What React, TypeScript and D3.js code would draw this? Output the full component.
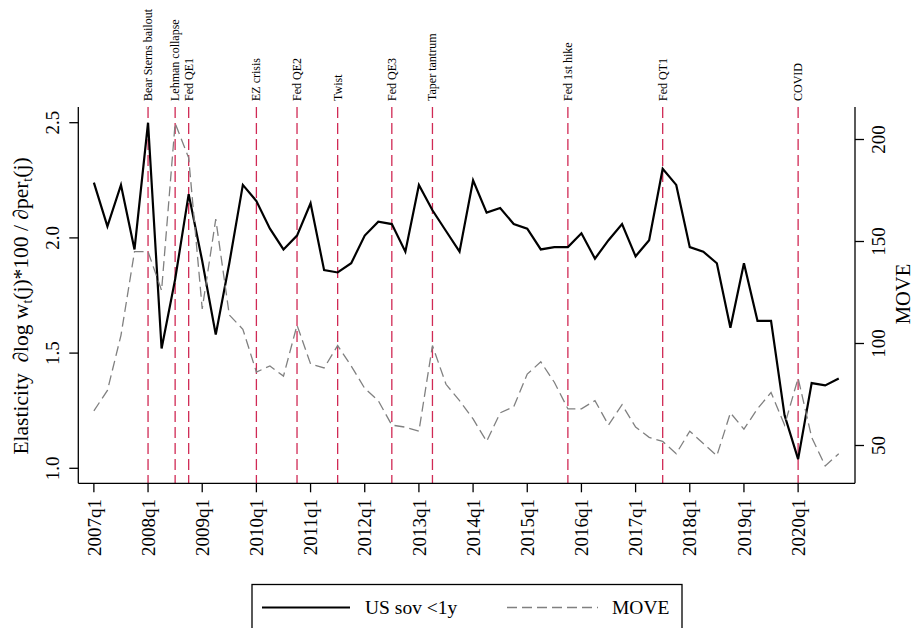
import React from 'react';
import * as d3 from 'd3';

// quarterly categories 2007q1 .. 2020q4
const quarters = d3.range(2007, 2021).flatMap((y) => [1, 2, 3, 4].map((q) => `${y}q${q}`));

// elasticity, US sov <1y (left axis)
const usSov = [
  2.24, 2.05, 2.23, 1.95, 2.5, 1.52, 1.82, 2.19,
  1.9, 1.58, 1.89, 2.23, 2.16, 2.04, 1.95, 2.01,
  2.15, 1.86, 1.85, 1.89, 2.01, 2.07, 2.06, 1.94,
  2.23, 2.12, 2.03, 1.94, 2.25, 2.11, 2.13, 2.06,
  2.04, 1.95, 1.96, 1.96, 2.02, 1.91, 1.99, 2.06,
  1.92, 1.99, 2.3, 2.23, 1.96, 1.94, 1.89, 1.61,
  1.89, 1.64, 1.64, 1.23, 1.04, 1.37, 1.36, 1.39,
];

// MOVE index (right axis)
const move = [
  67, 77, 104, 145, 145, 126, 208, 191,
  117, 161, 114, 107, 86, 89, 84, 109,
  90, 88, 99, 89, 78, 72, 60, 59,
  57, 99, 80, 72, 63, 52, 66, 69,
  85, 91, 81, 68, 68, 72, 60, 70,
  59, 54, 52, 46, 57, 51, 45, 66,
  58, 68, 76, 60, 83, 54, 40, 46,
];

const xTickLabels = [
  '2007q1', '2008q1', '2009q1', '2010q1', '2011q1', '2012q1', '2013q1',
  '2014q1', '2015q1', '2016q1', '2017q1', '2018q1', '2019q1', '2020q1',
];
const leftTicks = [1.0, 1.5, 2.0, 2.5];
const rightTicks = [50, 100, 150, 200];

const eventNames = [
  'Bear Sterns bailout', 'Lehman collapse', 'Fed QE1', 'EZ crisis', 'Fed QE2', 'Twist',
  'Fed QE3', 'Taper tantrum', 'Fed 1st hike', 'Fed QT1', 'COVID',
];
const eventDates = [
  '2008q1', '2008q3', '2008q4', '2010q1', '2010q4', '2011q3',
  '2012q3', '2013q2', '2015q4', '2017q3', '2020q1',
];

const FONT = "'Liberation Serif', 'Times New Roman', serif";

export default function App() {
  const width = 915;
  const height = 628;
  const plot = { left: 78.3, right: 855, top: 107, bottom: 483.3 };

  const x = d3.scaleLinear().domain([-1.15, 56.2]).range([plot.left, plot.right]);
  const qx = (q: string) => x(quarters.indexOf(q));
  const yL = d3.scaleLinear().domain([1, 2.5]).range([468.3, 122.7]);
  const yR = d3.scaleLinear().domain([50, 200]).range([445.5, 139.5]);

  const solid = d3
    .line<number>()
    .x((_, i) => x(i))
    .y((d) => yL(d));
  const dashed = d3
    .line<number>()
    .x((_, i) => x(i))
    .y((d) => yR(d));

  return (
    <svg
      width={width}
      height={height}
      style={{ position: 'absolute', left: 0, top: 0, background: '#fff' }}
      fontFamily={FONT}
    >
      {/* event lines */}
      {eventDates.map((q, i) => (
        <g key={q}>
          <line
            x1={qx(q)}
            x2={qx(q)}
            y1={plot.top}
            y2={plot.bottom}
            stroke="#d02a55"
            strokeWidth={1.3}
            strokeDasharray="11,5"
          />
          <text
            transform={`translate(${qx(q)},101) rotate(-90)`}
            dy="0.33em"
            fontSize={12}
            textAnchor="start"
          >
            {eventNames[i]}
          </text>
        </g>
      ))}

      <path d={solid(usSov) ?? ''} fill="none" stroke="#000" strokeWidth={2.2} strokeLinejoin="miter" />
      <path
        d={dashed(move) ?? ''}
        fill="none"
        stroke="#808080"
        strokeWidth={1.3}
        strokeDasharray="10,5"
      />

      {/* axes */}
      <g stroke="#000" strokeWidth={1.3}>
        <line x1={plot.left} x2={plot.left} y1={plot.top} y2={plot.bottom} />
        <line x1={plot.right} x2={plot.right} y1={plot.top} y2={plot.bottom} />
        <line x1={plot.left} x2={plot.right} y1={plot.bottom} y2={plot.bottom} />
      </g>

      {leftTicks.map((v) => (
        <g key={v}>
          <line x1={plot.left - 9} x2={plot.left} y1={yL(v)} y2={yL(v)} stroke="#000" strokeWidth={1.3} />
          <text
            transform={`translate(52,${yL(v)}) rotate(-90)`}
            dy="0.35em"
            textAnchor="middle"
            fontSize={19}
          >
            {d3.format('.1f')(v)}
          </text>
        </g>
      ))}

      {rightTicks.map((v) => (
        <g key={v}>
          <line x1={plot.right} x2={plot.right + 9} y1={yR(v)} y2={yR(v)} stroke="#000" strokeWidth={1.3} />
          <text
            transform={`translate(878,${yR(v)}) rotate(-90)`}
            dy="0.35em"
            textAnchor="middle"
            fontSize={19}
          >
            {v}
          </text>
        </g>
      ))}

      {xTickLabels.map((q) => (
        <g key={q}>
          <line x1={qx(q)} x2={qx(q)} y1={plot.bottom} y2={plot.bottom + 9} stroke="#000" strokeWidth={1.3} />
          <text
            transform={`translate(${qx(q)},499) rotate(-90)`}
            dy="0.35em"
            textAnchor="end"
            fontSize={19}
          >
            {q}
          </text>
        </g>
      ))}

      {/* axis titles */}
      <text transform="translate(20,306) rotate(-90)" dy="0.35em" textAnchor="middle" fontSize={21.5}>
        Elasticity{'\u00a0\u00a0'}∂log w
        <tspan dy={4} fontSize={14}>t</tspan>
        <tspan dy={-4}>(j)*100 / ∂per</tspan>
        <tspan dy={4} fontSize={14}>t</tspan>
        <tspan dy={-4}>(j)</tspan>
      </text>
      <text transform="translate(903,294) rotate(-90)" dy="0.35em" textAnchor="middle" fontSize={20.5}>
        MOVE
      </text>

      {/* legend */}
      <rect x={252} y={584.5} width={430} height={60} fill="#fff" stroke="#000" strokeWidth={1.3} />
      <line x1={262} x2={350} y1={607.5} y2={607.5} stroke="#000" strokeWidth={2.2} />
      <text x={365} y={607.5} dy="0.35em" fontSize={19.5}>
        US sov &lt;1y
      </text>
      <line x1={507} x2={598} y1={607.5} y2={607.5} stroke="#808080" strokeWidth={1.3} strokeDasharray="10,5" />
      <text x={612} y={607.5} dy="0.35em" fontSize={19.5}>
        MOVE
      </text>
    </svg>
  );
}
